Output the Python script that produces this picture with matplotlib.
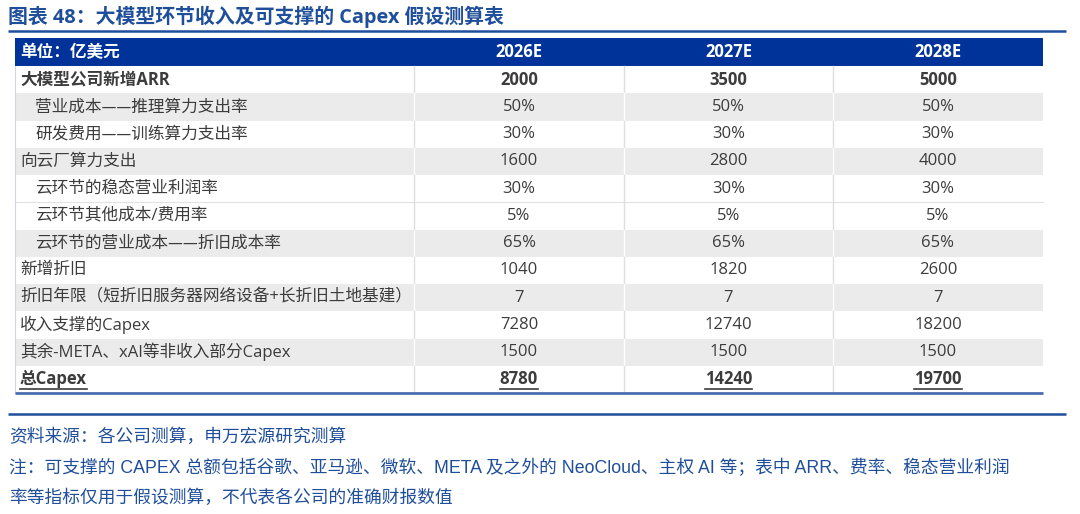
import matplotlib.pyplot as plt
from matplotlib.patches import Rectangle

plt.rcParams['font.family'] = ['Open Sans', 'Noto Sans CJK SC', 'DejaVu Sans']

title = '图表 48：大模型环节收入及可支撑的 Capex 假设测算表'
unit_label = '单位：亿美元'
years = ['2026E', '2027E', '2028E']

row_labels = [
    '大模型公司新增ARR',
    '营业成本——推理算力支出率',
    '研发费用——训练算力支出率',
    '向云厂算力支出',
    '云环节的稳态营业利润率',
    '云环节其他成本/费用率',
    '云环节的营业成本——折旧成本率',
    '新增折旧',
    '折旧年限（短折旧服务器网络设备+长折旧土地基建）',
    '收入支撑的Capex',
    '其余-META、xAI等非收入部分Capex',
    '总Capex',
]
indented = [False, True, True, False, True, True, True, False, False, False, False, False]
bold_rows = [0, 11]
underline_rows = [11]
shaded = [False, True, False, True, False, False, True, False, True, False, True, False]

values_2026 = ['2000', '50%', '30%', '1600', '30%', '5%', '65%', '1040', '7', '7280', '1500', '8780']
values_2027 = ['3500', '50%', '30%', '2800', '30%', '5%', '65%', '1820', '7', '12740', '1500', '14240']
values_2028 = ['5000', '50%', '30%', '4000', '30%', '5%', '65%', '2600', '7', '18200', '1500', '19700']
values = [values_2026, values_2027, values_2028]

source = '资料来源：各公司测算，申万宏源研究测算'
note1 = '注：可支撑的 CAPEX 总额包括谷歌、亚马逊、微软、META 及之外的 NeoCloud、主权 AI 等；表中 ARR、费率、稳态营业利润'
note2 = '率等指标仅用于假设测算，不代表各公司的准确财报数值'

blue_text = '#1F4E9A'
header_blue = '#00339A'
grey_fill = '#EBEBEB'
body_color = '#3C3C3C'
cjk = ['Noto Sans CJK SC', 'DejaVu Sans']
footer_fam = ['Liberation Sans', 'Noto Sans CJK SC', 'DejaVu Sans']

fig = plt.figure(figsize=(10.8, 5.14), dpi=100)
ax = fig.add_axes([0, 0, 1, 1])
ax.set_xlim(0, 1080)
ax.set_ylim(514, 0)
ax.axis('off')

# title + rule
ax.text(8, 17, title, fontsize=14.3, fontweight='bold', color=blue_text, va='center', ha='left')
ax.plot([8, 1066], [30.5, 30.5], color=blue_text, lw=1.8, solid_capstyle='butt')

# table geometry
left = 15
col_edges = [15, 414, 624, 833, 1043]
header_top, header_bot = 38, 66
row_h = (393 - 66) / len(row_labels)

ax.add_patch(Rectangle((left, header_top), col_edges[-1] - left, header_bot - header_top,
                       facecolor=header_blue, edgecolor='none'))
ax.text(20, (header_top + header_bot) / 2, unit_label, color='white', fontsize=12,
        fontweight='bold', va='center', ha='left')
for j, yr in enumerate(years):
    cx = (col_edges[j + 1] + col_edges[j + 2]) / 2
    ax.text(cx, (header_top + header_bot) / 2, yr, color='white', fontsize=12,
            fontweight='bold', va='center', ha='center')

fig.canvas.draw()
renderer = fig.canvas.get_renderer()

for i, lab in enumerate(row_labels):
    top = header_bot + i * row_h
    cy = top + row_h / 2
    fill = grey_fill if shaded[i] else 'white'
    ax.add_patch(Rectangle((left, top), col_edges[-1] - left, row_h,
                           facecolor=fill, edgecolor='none'))
    # horizontal separator on white rows
    if not shaded[i] and i > 0 and not shaded[i - 1]:
        ax.plot([left, col_edges[-1]], [top, top], color='#E2E2E2', lw=0.8)
    div_color = 'white' if shaded[i] else '#DEDEDE'
    for x in col_edges[1:-1]:
        ax.plot([x, x], [top, top + row_h], color=div_color, lw=1.0)
    weight = 'bold' if i in bold_rows else 'normal'
    tx = 35 if indented[i] else 20
    # labels with em dashes use the CJK face so the dash runs solid
    fam = cjk if '——' in lab else None
    t = ax.text(tx, cy, lab, fontsize=12, fontweight=weight, color=body_color,
                va='center', ha='left', family=fam)
    cells = [t]
    for j in range(len(years)):
        cx = (col_edges[j + 1] + col_edges[j + 2]) / 2
        cells.append(ax.text(cx, cy, values[j][i], fontsize=12, fontweight=weight,
                             color=body_color, va='center', ha='center'))
    if i in underline_rows:
        inv = ax.transData.inverted()
        for c in cells:
            bb = c.get_window_extent(renderer=renderer)
            (x0, _), (x1, _) = inv.transform([(bb.x0, bb.y0), (bb.x1, bb.y1)])
            ax.plot([x0, x1], [cy + 9.5, cy + 9.5], color=body_color, lw=1.2)

# left thin border and bottom rule of table
ax.plot([left, left], [header_bot, 393], color='#D0D6E2', lw=0.8)
ax.plot([left, col_edges[-1]], [393, 393], color='#4A6CB0', lw=2.0, solid_capstyle='butt')

# footer
ax.plot([8, 1066], [414, 414], color=blue_text, lw=1.8, solid_capstyle='butt')
ax.text(9, 437, source, fontsize=12.75, color=blue_text, va='center', ha='left', family=footer_fam)
ax.text(9, 468, note1, fontsize=12.75, color=blue_text, va='center', ha='left', family=footer_fam)
ax.text(9, 498, note2, fontsize=12.75, color=blue_text, va='center', ha='left', family=footer_fam)

fig.savefig('out.png', dpi=100)
